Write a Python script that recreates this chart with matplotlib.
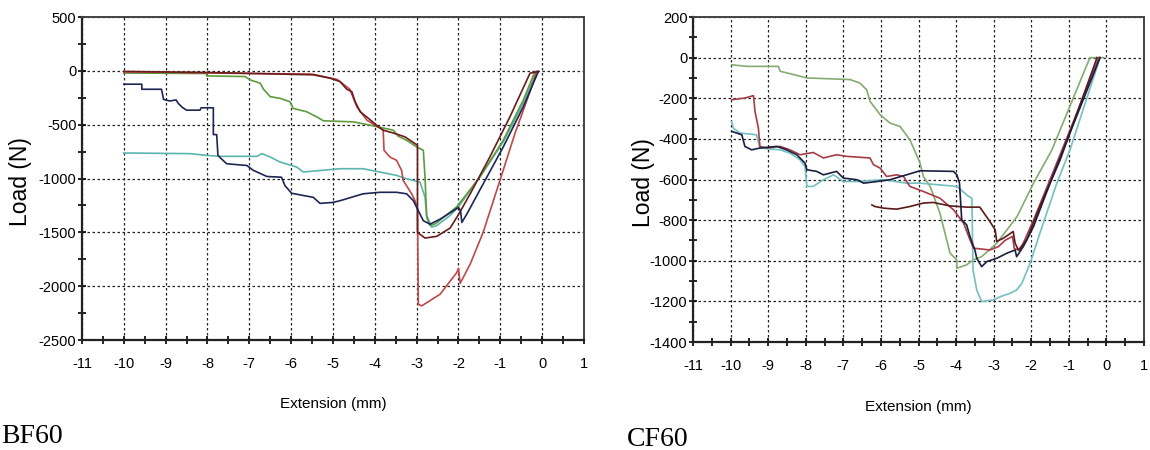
import numpy as np
import matplotlib.pyplot as plt
from matplotlib.ticker import MultipleLocator

# -------------------------------------------------
# DATA  (extension in mm, load in N)
# -------------------------------------------------

# BF60
bf_navy_x = [-10, -9.57, -9.57, -9.1, -9.05, -8.9, -8.75, -8.7, -8.6, -8.5, -8.18, -8.15, -7.86, -7.86,
             -7.78, -7.75, -7.66, -7.54, -7.06, -6.9, -6.58, -6.23, -6.15, -5.99, -5.47, -5.31, -5.0,
             -4.83, -4.28, -3.88, -3.48, -3.24, -3.08, -2.96, -2.84, -2.68, -2.44, -2.12, -2.0, -1.95,
             -1.92, -1.8, -1.41, -0.93, -0.45, -0.09]
bf_navy_y = [-124, -124, -171, -171, -265, -280, -270, -302, -340, -365, -365, -343, -343, -592,
             -592, -785, -820, -863, -879, -925, -981, -988, -1065, -1137, -1175, -1231, -1222,
             -1206, -1142, -1128, -1128, -1142, -1205, -1299, -1392, -1424, -1377, -1299, -1268, -1300,
             -1408, -1330, -1050, -707, -333, -6]

bf_teal_x = [-10, -8.42, -8.02, -7.7, -6.82, -6.7, -6.5, -6.27, -5.87, -5.71, -5.47, -4.83, -4.28,
             -3.88, -3.48, -3.24, -2.92, -2.8, -2.76, -2.64, -2.52, -2.2, -2.0, -1.49, -0.93, -0.45, -0.13]
bf_teal_y = [-763, -769, -785, -794, -794, -769, -800, -846, -893, -940, -931, -909, -909,
             -940, -971, -1002, -1033, -1173, -1343, -1452, -1437, -1343, -1262, -987, -660, -300, -6]

bf_green_x = [-10, -8.02, -8.02, -7.1, -6.98, -6.74, -6.66, -6.5, -6.27, -6.03, -5.95, -5.63, -5.39,
              -5.23, -4.51, -4.11, -3.56, -3.44, -3.24, -3.0, -2.84, -2.8, -2.76, -2.68, -2.55, -2.04,
              -1.49, -0.93, -0.45, -0.17]
bf_green_y = [-20, -25, -47, -53, -84, -115, -171, -240, -255, -287, -349, -380, -427,
              -464, -474, -505, -551, -607, -645, -707, -738, -987, -1360, -1437, -1420, -1262,
              -987, -645, -271, -6]

bf_maroon_x = [-10, -9.1, -8, -5.47, -5.07, -4.83, -4.67, -4.55, -4.47, -4.35, -4.15, -3.96, -3.8,
               -3.52, -3.28, -3.04, -2.98, -2.98, -2.8, -2.52, -2.2, -2.0, -1.72, -1.25, -0.77, -0.29, -0.09]
bf_maroon_y = [-5, -10, -15, -37, -68, -100, -171, -193, -287, -380, -442, -505, -551,
               -582, -613, -676, -690, -1500, -1553, -1537, -1460, -1335, -1142, -800, -427, -22, -6]

bf_red_x = [-10, -9.1, -8, -5.5, -4.9, -4.6, -4.43, -4.19, -3.8, -3.78, -3.64, -3.48, -3.36, -3.32,
            -3.12, -3.04, -2.98, -2.96, -2.88, -2.44, -2.04, -2.0, -1.96, -1.72, -1.41, -1.01, -0.65,
            -0.29, -0.13]
bf_red_y = [-10, -12, -20, -30, -80, -170, -333, -458, -551, -738, -800, -831, -925, -1019,
            -1142, -1205, -1282, -2168, -2183, -2075, -1873, -1834, -1974, -1795, -1500, -1019, -582,
            -193, -6]

# CF60
cf_green_x = [-9.97, -9.57, -8.73, -8.68, -7.97, -6.82, -6.56, -6.38, -6.29, -6.02, -5.76, -5.49,
              -5.23, -4.96, -4.87, -4.69, -4.43, -4.16, -3.98, -3.98, -3.72, -3.54, -3.32, -2.92,
              -2.38, -1.94, -1.45, -0.44, -0.08]
cf_green_y = [-35, -43, -43, -67, -100, -108, -125, -158, -215, -281, -322, -339,
              -404, -519, -585, -634, -766, -963, -996, -1037, -1020, -996, -980, -914,
              -783, -618, -454, 0, 0]

cf_teal_x = [-9.97, -9.93, -9.75, -9.31, -9.22, -8.68, -8.42, -8.15, -8.02, -7.97, -7.8, -7.53, -7.26,
             -7.0, -6.64, -5.93, -5.32, -4.96, -3.98, -3.67, -3.58, -3.55, -3.45, -3.32, -3.01, -2.83,
             -2.56, -2.39, -2.25, -2.03, -1.77, -1.32, -0.97, -0.17]
cf_teal_y = [-314, -347, -371, -380, -445, -454, -470, -503, -536, -634, -634, -601, -577,
             -610, -610, -601, -618, -618, -634, -683, -692, -1045, -1144, -1201, -1193, -1177,
             -1160, -1144, -1111, -1012, -864, -618, -454, 0]

cf_navy_x = [-9.97, -9.7, -9.62, -9.44, -9.22, -8.77, -8.51, -8.24, -8.02, -7.97, -7.71, -7.53, -7.18,
             -7.0, -6.64, -6.46, -6.11, -5.76, -5.32, -4.96, -4.07, -3.98, -3.91, -3.85, -3.72, -3.63,
             -3.5, -3.45, -3.32, -3.18, -2.92, -2.65, -2.43, -2.39, -2.21, -1.94, -1.5, -1.15, -0.17]
cf_navy_y = [-363, -380, -437, -454, -445, -437, -454, -478, -519, -552, -560, -577, -560,
             -593, -601, -618, -610, -601, -577, -557, -560, -577, -618, -799, -823, -881,
             -947, -988, -1029, -1004, -988, -963, -947, -980, -930, -832, -618, -454, 0]

cf_red_x = [-9.97, -9.62, -9.39, -9.35, -9.26, -9.22, -9.04, -8.68, -8.42, -8.15, -7.8, -7.53, -7.18,
            -6.91, -6.29, -6.2, -6.02, -5.85, -5.58, -5.4, -5.23, -4.87, -4.43, -4.07, -3.8, -3.63,
            -3.54, -3.1, -2.87, -2.7, -2.5, -2.45, -2.3, -1.94, -1.5, -1.15, -0.2]
cf_red_y = [-207, -199, -187, -265, -347, -437, -445, -437, -454, -478, -467, -494, -478,
            -486, -494, -527, -544, -585, -577, -585, -634, -659, -692, -749, -815, -897,
            -938, -947, -930, -900, -880, -940, -950, -800, -600, -440, 0]

cf_maroon_x = [-6.24, -6.16, -5.93, -5.58, -5.23, -4.87, -4.61, -4.16, -3.72, -3.37, -3.1, -2.96,
               -2.92, -2.74, -2.48, -2.43, -2.34, -2.12, -1.77, -1.23, -0.25]
cf_maroon_y = [-725, -733, -741, -746, -733, -716, -713, -730, -736, -736, -807, -848,
               -905, -889, -856, -914, -947, -897, -733, -503, 0]

bf_ticks_y = [500, 0, -500, -1000, -1500, -2000, -2500]
cf_ticks_y = [200, 0, -200, -400, -600, -800, -1000, -1200, -1400]
x_ticks = np.arange(-11, 2)


# -------------------------------------------------
# AXES STYLE
# -------------------------------------------------
def style_axes(ax, yticks, ystep):
    ax.set_xlim(-11, 1)
    ax.set_ylim(yticks[-1], yticks[0])
    ax.set_xticks(x_ticks)
    ax.set_yticks(yticks)
    ax.xaxis.set_minor_locator(MultipleLocator(0.5))
    ax.yaxis.set_minor_locator(MultipleLocator(ystep / 2))
    ax.tick_params(which='both', direction='inout', length=6, width=1.2, labelsize=10.5)
    ax.tick_params(axis='x', pad=9)
    ax.tick_params(axis='y', pad=1)
    ax.grid(True, color='#222222', linestyle=(0, (2, 2)), linewidth=0.9)
    for s in ['left', 'bottom']:
        ax.spines[s].set_linewidth(1.6)
        ax.spines[s].set_color('#222222')
    for s in ['top', 'right']:
        ax.spines[s].set_linewidth(1.4)
        ax.spines[s].set_color('#444444')
    ax.set_xlabel("Extension (mm)", fontsize=11)
    ax.set_ylabel("Load (N)", fontsize=16.5)


plt.rcParams['font.family'] = ['Liberation Sans', 'DejaVu Sans']
plt.rcParams['axes.unicode_minus'] = False

fig = plt.figure(figsize=(11.5, 4.5), dpi=100)

# -------------------------------------------------
# BF60
# -------------------------------------------------
ax1 = fig.add_axes([0.0713, 0.2444, 0.4365, 0.7178])
ax1.plot(bf_teal_x, bf_teal_y, color='#5cb5ad', lw=1.2)
ax1.plot(bf_green_x, bf_green_y, color='#5e9a3e', lw=1.2)
ax1.plot(bf_red_x, bf_red_y, color='#bf4848', lw=1.2)
ax1.plot(bf_maroon_x, bf_maroon_y, color='#6a1c1c', lw=1.2)
ax1.plot(bf_navy_x, bf_navy_y, color='#1e2654', lw=1.2)
style_axes(ax1, bf_ticks_y, 500)
ax1.xaxis.set_label_coords(0.5, -0.175)
ax1.yaxis.set_label_coords(-0.1, 0.49)

# -------------------------------------------------
# CF60
# -------------------------------------------------
ax2 = fig.add_axes([0.6026, 0.24, 0.3922, 0.7222])
ax2.plot(cf_green_x, cf_green_y, color='#86ab70', lw=1.2)
ax2.plot(cf_teal_x, cf_teal_y, color='#72c0c0', lw=1.2)
ax2.plot(cf_red_x, cf_red_y, color='#a63c48', lw=1.2)
ax2.plot(cf_maroon_x, cf_maroon_y, color='#5a1a1a', lw=1.2)
ax2.plot(cf_navy_x, cf_navy_y, color='#1a1f40', lw=1.2)
style_axes(ax2, cf_ticks_y, 200)
ax2.xaxis.set_label_coords(0.5, -0.178)
ax2.yaxis.set_label_coords(-0.084, 0.49)

# panel captions
fig.text(1 / 1150, 1 - 443 / 450, "BF60", family='Liberation Serif', fontsize=20, va='baseline')
fig.text(627 / 1150, 1 - 446 / 450, "CF60", family='Liberation Serif', fontsize=20, va='baseline')

fig.savefig("out.png", dpi=100)
